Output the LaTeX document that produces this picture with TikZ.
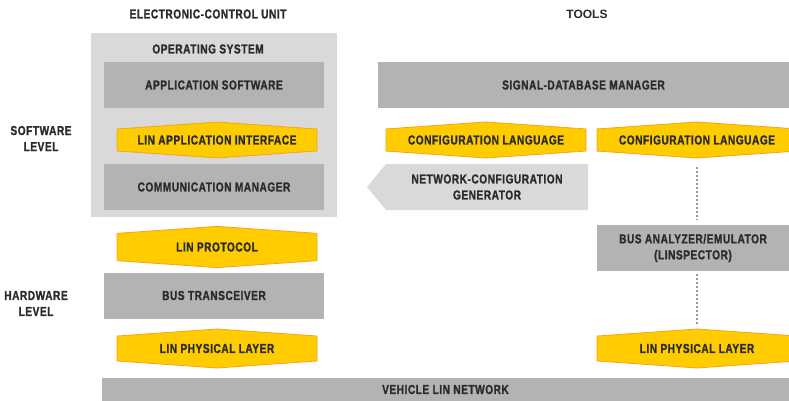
\documentclass[tikz,border=0pt]{standalone}
\usepackage{fontspec}
\setmainfont{Liberation Sans}[FakeStretch=0.78,LetterSpace=4,BoldFeatures={FakeBold=1.2}]
\newfontfamily\toolsfont{Liberation Sans}
\usetikzlibrary{shapes.symbols, positioning}
\definecolor{boxgray}{HTML}{B3B3B3}
\definecolor{osgray}{HTML}{D9D9D9}
\definecolor{langyellow}{HTML}{FFCC00}
\definecolor{langorange}{HTML}{F7A21B}
\definecolor{textdark}{HTML}{2B2B2B}
\definecolor{dotgray}{HTML}{999999}
\newcommand{\labelfont}{\fontsize{13}{16}\selectfont\bfseries}
\tikzstyle{block} = [rectangle, fill=boxgray, minimum width=220pt,
    minimum height=46pt, inner sep=0pt, text=textdark, font=\labelfont, align=center]
\tikzstyle{lang} = [signal, signal to=north and south, signal pointer angle=172,
    draw=langorange, fill=langyellow, line width=0.8pt, minimum width=200pt,
    minimum height=33pt, inner sep=0pt, text=textdark, font=\labelfont]
\tikzstyle{caption} = [text=textdark, font=\labelfont, align=center]
\tikzstyle{link} = [draw=dotgray, line width=2pt, dash pattern=on 2pt off 2pt]

\begin{document}
\begin{tikzpicture}[x=1pt, y=-1pt]
		\useasboundingbox (0,0) rectangle (789,401);
		\clip (0,0) rectangle (789,401);
		% column titles and levels
		\node [caption] (ecu) at (208,14) {ELECTRONIC-CONTROL UNIT};
		\node [caption, font=\toolsfont\fontsize{12}{14}\selectfont\bfseries] (tools) at (587,14) {TOOLS};
		\node [caption] (swlevel) at (41,138.5) {SOFTWARE\\LEVEL};
		\node [caption] (hwlevel) at (36,303.5) {HARDWARE\\LEVEL};
		
		% electronic-control unit
		\node [block, fill=osgray, minimum width=246pt, minimum height=184pt] (os) at (214,125) {};
		\node [caption] (oslabel) at (208,49) {OPERATING SYSTEM};
		\node [block] (appsw) at (214,85) {APPLICATION SOFTWARE};
		\node [lang] (appif) at (217,140) {LIN APPLICATION INTERFACE};
		\node [block] (commgr) at (214,187) {COMMUNICATION MANAGER};
		\node [lang] (protocol) at (217,247) {LIN PROTOCOL};
		\node [block] (transceiver) at (214,295.5) {BUS TRANSCEIVER};
		\node [lang] (phys) at (217,348.5) {LIN PHYSICAL LAYER};
		\node [block, minimum width=687pt, minimum height=23pt] (network) at (445.5,389.5) {VEHICLE LIN NETWORK};
		
		% tools
		\node [block, minimum width=411pt] (sigdb) at (583.5,85) {SIGNAL-DATABASE MANAGER};
		\node [lang] (cfgA) at (486,140) {CONFIGURATION LANGUAGE};
		\node [lang] (cfgB) at (697,140) {CONFIGURATION LANGUAGE};
		\node [block, signal, signal to=west, signal from=nowhere, signal pointer angle=101,
			fill=osgray, minimum width=221pt] (generator) at (487,187) {NETWORK-CONFIGURATION\\GENERATOR};
		\node [block, minimum width=192pt] (analyzer) at (693,248) {BUS ANALYZER/EMULATOR\\(LINSPECTOR)};
		\node [lang] (physB) at (697,348.5) {LIN PHYSICAL LAYER};
		
		\path[link, shorten <=9pt, shorten >=5pt] (cfgB.south) -- (cfgB.south |- analyzer.north);
		\path[link, shorten <=3pt, shorten >=5pt] (analyzer.south -| physB.north) -- (physB.north);
	\end{tikzpicture}
\end{document}
